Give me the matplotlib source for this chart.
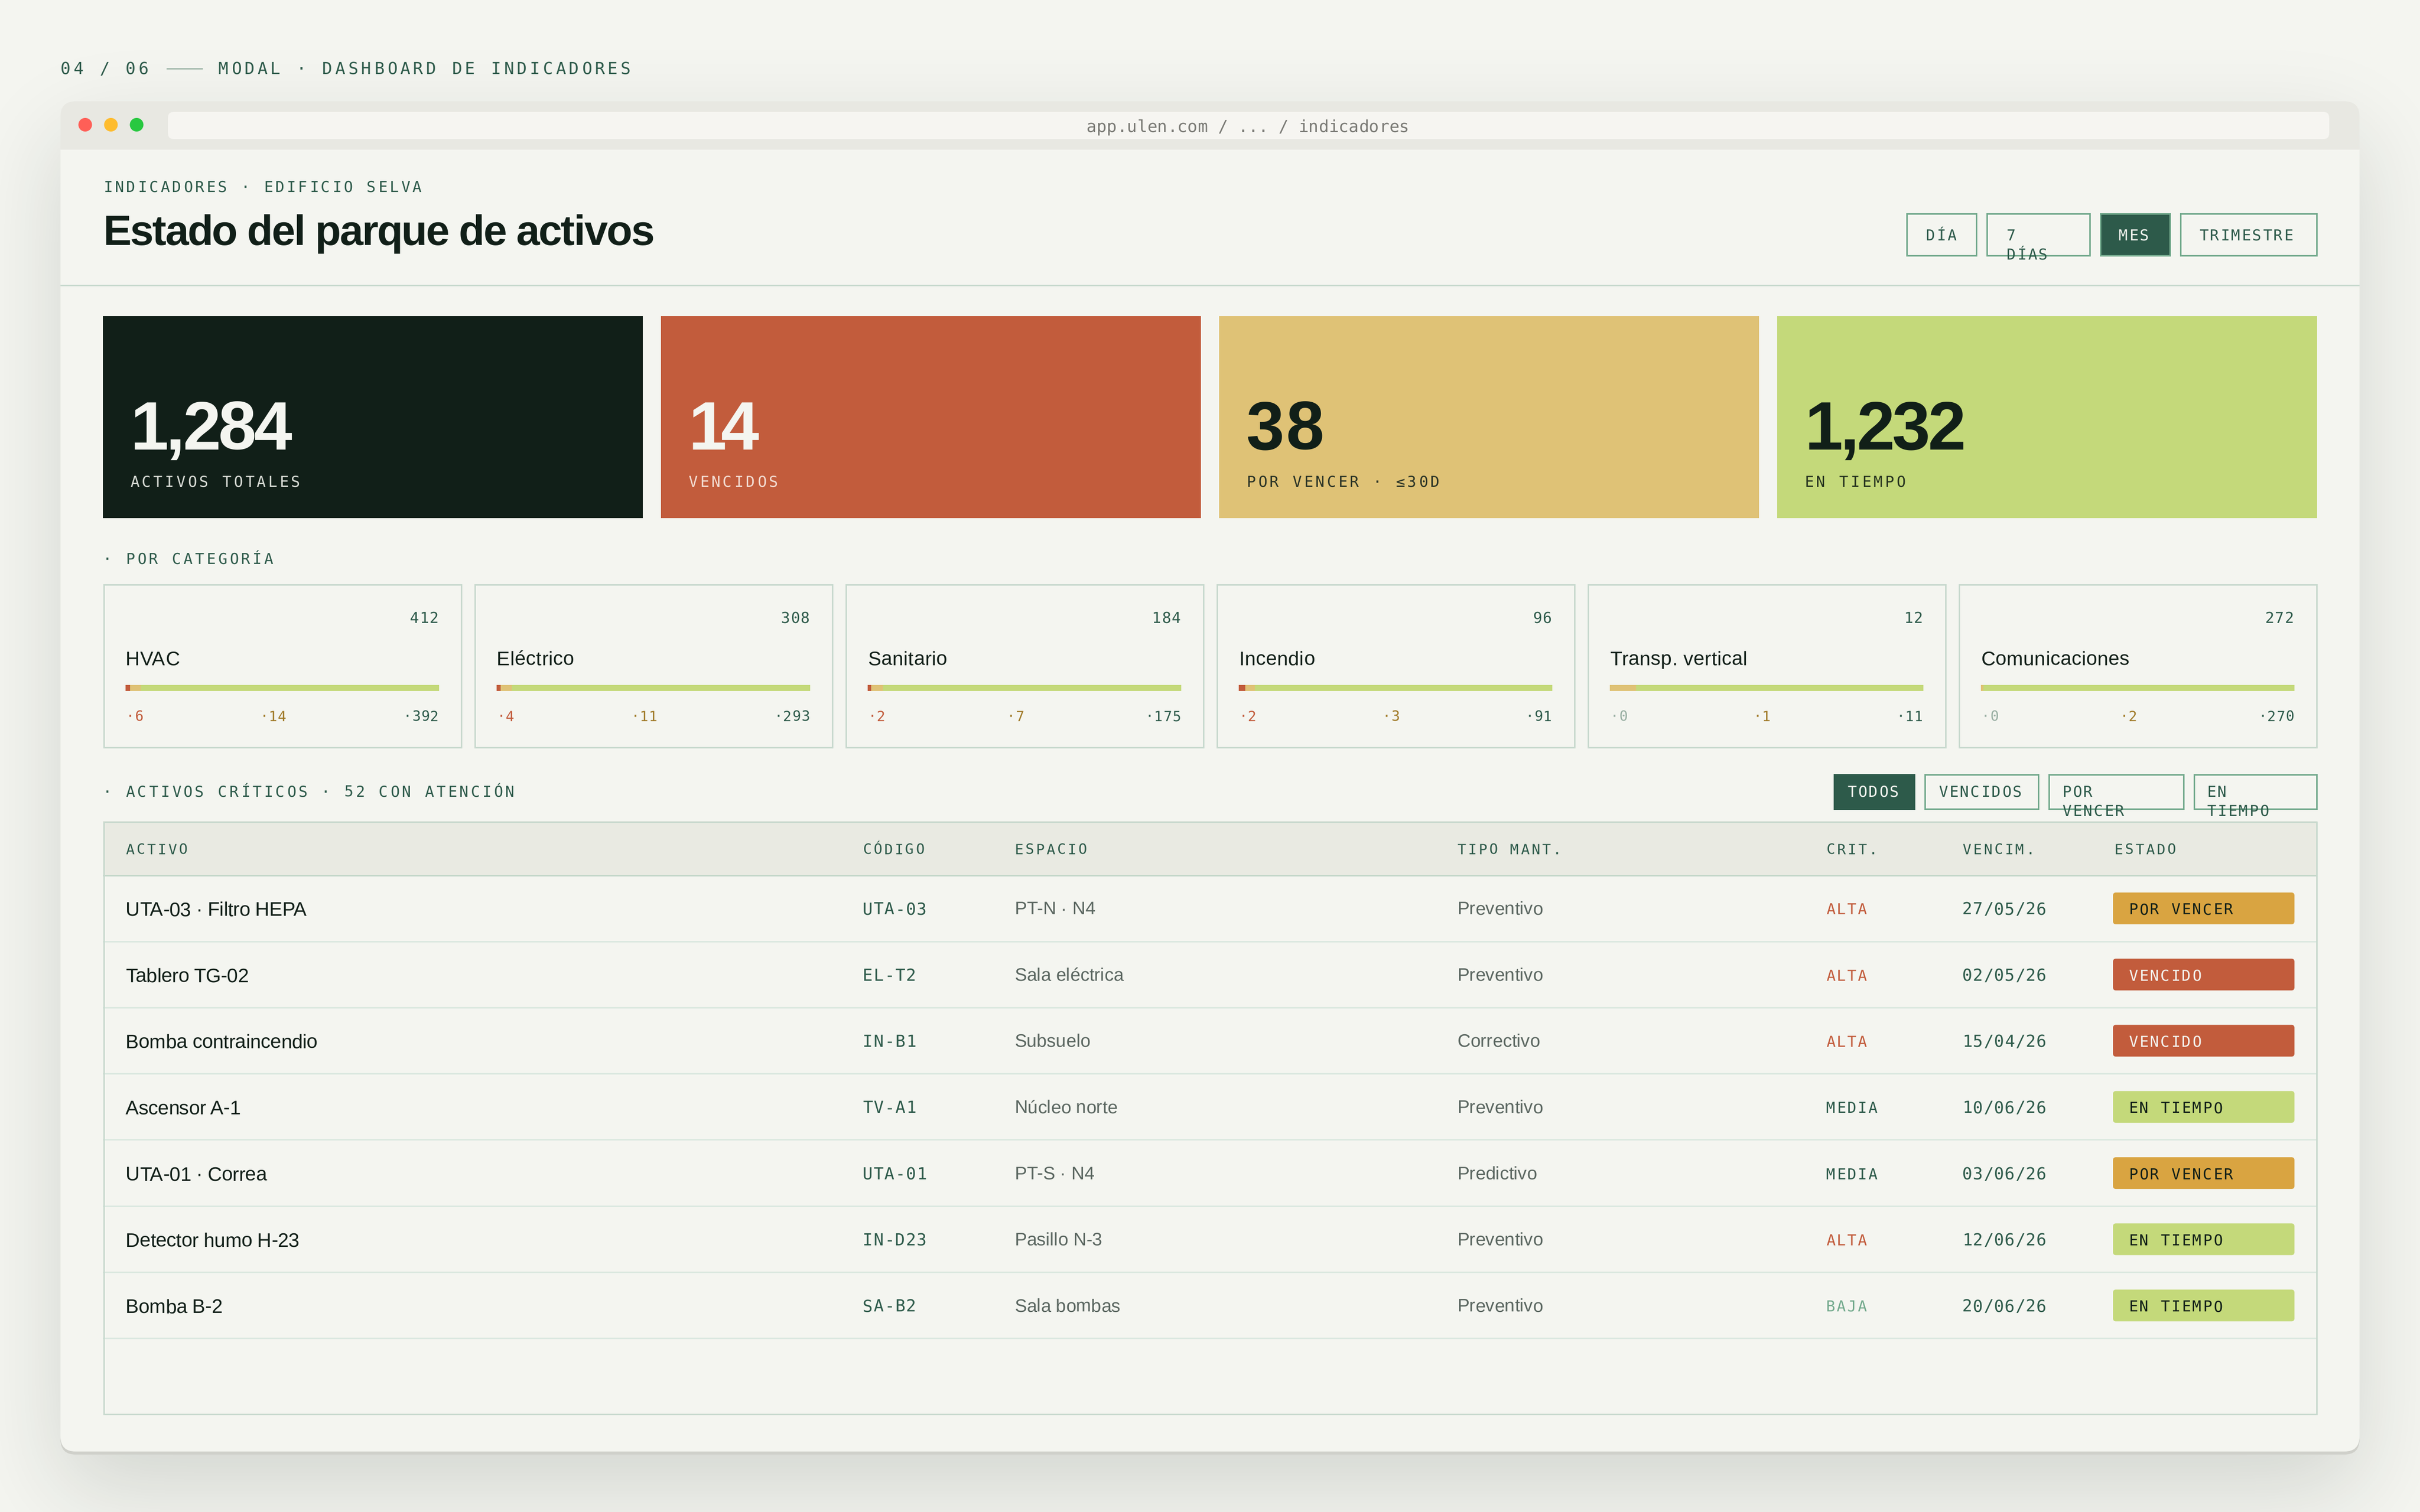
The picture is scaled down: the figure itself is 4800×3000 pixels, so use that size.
import math
import numpy as np
import matplotlib
matplotlib.use("Agg")
import matplotlib.pyplot as plt
from matplotlib import font_manager as fm, _text_helpers
from matplotlib.patches import FancyBboxPatch, Rectangle, Circle
from matplotlib.text import Text
from matplotlib.transforms import Bbox

plt.rcParams['text.hinting'] = 'none'

# ---------- data ----------
crumb_counter = "04 / 06"
crumb_title = "MODAL · DASHBOARD DE INDICADORES"
url_text = "app.ulen.com / ... / indicadores"
eyebrow = "INDICADORES · EDIFICIO SELVA"
page_title = "Estado del parque de activos"
range_labels = ["DÍA", "7\nDÍAS", "MES", "TRIMESTRE"]
kpi_values = ["1,284", "14", "38", "1,232"]
kpi_labels = ["ACTIVOS TOTALES", "VENCIDOS", "POR VENCER · ≤30D", "EN TIEMPO"]
section_cat = "· POR CATEGORÍA"
section_tab = "· ACTIVOS CRÍTICOS · 52 CON ATENCIÓN"
categories = ["HVAC", "Eléctrico", "Sanitario", "Incendio", "Transp. vertical", "Comunicaciones"]
cat_totals = [412, 308, 184, 96, 12, 272]
cat_overdue = [6, 4, 2, 2, 0, 0]
cat_due = [14, 11, 7, 3, 1, 2]
cat_ontime = [392, 293, 175, 91, 11, 270]
filter_labels = ["TODOS", "VENCIDOS", "POR\nVENCER", "EN\nTIEMPO"]
table_headers = ["ACTIVO", "CÓDIGO", "ESPACIO", "TIPO MANT.", "CRIT.", "VENCIM.", "ESTADO"]
row_names = ["UTA-03 · Filtro HEPA", "Tablero TG-02", "Bomba contraincendio", "Ascensor A-1",
             "UTA-01 · Correa", "Detector humo H-23", "Bomba B-2"]
row_codes = ["UTA-03", "EL-T2", "IN-B1", "TV-A1", "UTA-01", "IN-D23", "SA-B2"]
row_spaces = ["PT-N · N4", "Sala eléctrica", "Subsuelo", "Núcleo norte", "PT-S · N4", "Pasillo N-3", "Sala bombas"]
row_types = ["Preventivo", "Preventivo", "Correctivo", "Preventivo", "Predictivo", "Preventivo", "Preventivo"]
row_crit = ["ALTA", "ALTA", "ALTA", "MEDIA", "MEDIA", "ALTA", "BAJA"]
row_dates = ["27/05/26", "02/05/26", "15/04/26", "10/06/26", "03/06/26", "12/06/26", "20/06/26"]
row_status = ["POR VENCER", "VENCIDO", "VENCIDO", "EN TIEMPO", "POR VENCER", "EN TIEMPO", "EN TIEMPO"]

# ---------- style ----------
BG = "#f4f5f0"; INK = "#111f18"; GREEN = "#2d5a4a"; RED = "#c25c3c"; YEL = "#dfc276"; LIME = "#c4d97a"
AMBER = "#d9a441"; OCHRE = "#a07a28"; MUTED = "#5a6660"; BORDER = "#c8d9ce"; ROWLINE = "#dbe8e0"
BTN = "#72a98c"; ZERO = "#9ab0a4"
MONO = "DejaVu Sans Mono"; SANS = "Liberation Sans"
PX = 72 / 300  # points per output pixel


class Tracked(Text):
    """A single text artist drawn with CSS-like letter spacing."""

    def __init__(self, x, y, s, adv=None, track=0.0, fit=None, align="left", line=38, **kw):
        super().__init__(x, y, s, **kw)
        self._adv, self._track, self._fit, self._align, self._line = adv, track, fit, align, line

    def _place(self, dpi):
        fp = self.get_fontproperties()
        font = fm.get_font(fm.findfont(fp), hinting_factor=1)
        font.set_size(fp.get_size_in_points(), dpi)
        x0, y0 = self.get_transform().transform(self.get_position())
        out, widths = [], []
        for li, ln in enumerate(self.get_text().split("\n")):
            items = list(_text_helpers.layout(ln, font))
            n = len(ln)
            if self._adv is not None:
                xs = [i * self._adv for i in range(n)]
                w = n * self._adv
            else:
                tr = self._track
                last = items[-1]
                natural = last.x + last.ft_object.load_glyph(last.glyph_idx, flags=32).linearHoriAdvance / 65536
                if self._fit is not None and n > 1:
                    tr = (self._fit - natural) / (n - 1)
                xs = [it.x + i * tr for i, it in enumerate(items)]
                w = natural + (n - 1) * tr
            off = {"left": 0, "right": -w, "center": -w / 2}[self._align]
            for ch, xx in zip(ln, xs):
                out.append((ch, x0 + off + xx, y0 - li * self._line))
            widths.append((x0 + off, x0 + off + w, y0 - li * self._line))
        return out, widths, fp

    def draw(self, renderer):
        if not self.get_visible():
            return
        chars, _, fp = self._place(renderer.dpi)
        gc = renderer.new_gc()
        gc.set_foreground(self.get_color())
        gc.set_alpha(self.get_alpha())
        h = renderer.get_canvas_width_height()[1]
        for ch, x, y in chars:
            if ch != " ":
                renderer.draw_text(gc, x, h - y if renderer.flipy() else y, ch, fp, 0, False)
        gc.restore()

    def get_window_extent(self, renderer=None, dpi=None):
        d = dpi or self.get_figure(root=True).dpi
        _, widths, fp = self._place(d)
        size = fp.get_size_in_points() * d / 72
        return Bbox([[min(a for a, _, _ in widths), min(c for _, _, c in widths) - size * 0.22],
                     [max(b for _, b, _ in widths), max(c for _, _, c in widths) + size * 0.76]])


fig = plt.figure(figsize=(16, 10), dpi=300, facecolor=BG)
ax = fig.add_axes([0, 0, 1, 1])
ax.set_axis_off()


def T(x, y, s, px, color, font=MONO, weight="normal", **kw):
    t = Tracked(x, y, s, color=color, fontsize=px * PX, family=font, weight=weight,
                transform=ax.transData, zorder=10, **kw)
    ax.add_artist(t)
    return t


def rect(x0, y0, x1, y1, fc="none", ec="none", lw=3, z=3, **kw):
    if ec != "none":
        x0, y0, x1, y1 = x0 + lw / 2, y0 + lw / 2, x1 - lw / 2, y1 - lw / 2
    p = Rectangle((x0, y0), x1 - x0, y1 - y0, fc=fc, ec=ec, lw=lw * PX if ec != "none" else 0,
                  joinstyle="miter", zorder=z, **kw)
    ax.add_patch(p)
    return p


def rrect(x0, y0, x1, y1, r, fc, z=3):
    p = FancyBboxPatch((x0, y0), x1 - x0, y1 - y0, boxstyle=f"round,pad=0,rounding_size={r}",
                       fc=fc, ec="none", lw=0, zorder=z)
    ax.add_patch(p)
    return p


# ---------- shadow ----------
WX0, WX1, WY0, WY1 = 120, 4680, 201, 2880
SIG = 90
erf = np.vectorize(math.erf)
px_x = np.arange(4800) + .5
px_y = np.arange(3000) + .5
sx = .5 * (erf((px_x - WX0) / (SIG * 2**.5)) - erf((px_x - WX1) / (SIG * 2**.5)))
sy = .5 * (erf((px_y - WY0 - 72) / (SIG * 2**.5)) - erf((px_y - WY1 - 72) / (SIG * 2**.5)))
shadow = np.zeros((3000, 4800, 4))
shadow[..., :3] = np.array([17, 31, 24]) / 255
shadow[..., 3] = .15 * np.outer(sy, sx)
ax.imshow(shadow, extent=(0, 4800, 3000, 0), aspect="auto", interpolation="nearest", zorder=0)
ax.set_xlim(0, 4800)
ax.set_ylim(3000, 0)

rrect(WX0, WY0 + 6, WX1, WY1 + 6, 30, "#cfd0ca", z=1)
win = rrect(WX0, WY0, WX1, WY1, 30, BG, z=2)
bar = rect(WX0, WY0, WX1, 297, fc="#e8e8e2", z=2.5)
bar.set_clip_path(win)

# ---------- top crumb ----------
T(120, 147, crumb_counter, 33, GREEN, adv=25.74)
ax.plot([330, 402], [136, 136], color="#a8bdb0", lw=3 * PX, solid_capstyle="butt", zorder=5)
T(433, 147, crumb_title, 33, GREEN, adv=25.74)

# ---------- browser chrome ----------
for cx, c in zip([169, 220, 271], ["#ff5f57", "#febc2e", "#28c840"]):
    ax.add_patch(Circle((cx, 247.5), 13.5, fc=c, ec="none", zorder=4))
rrect(333, 222, 4620, 276, 12, "#f6f5f1", z=3)
T(2155, 262, url_text, 33, "#7a7a75", adv=20)

# ---------- page header ----------
T(205, 381, eyebrow, 30, GREEN, adv=22.7)
T(204, 486, page_title, 84, INK, font=SANS, weight="bold", fit=1094)
rect(WX0, 564.5, WX1, 567.5, fc=BORDER)

range_x = [(3780, 3921), (3939, 4146), (4164, 4305), (4323, 4596)]
range_text_x = [3820, 3980, 4202, 4362]
for lab, (a, b), tx in zip(range_labels, range_x, range_text_x):
    active = lab == "MES"
    rect(a, 422, b, 508, fc=GREEN if active else "none", ec=BTN)
    T(tx, 477, lab, 30, BG if active else GREEN, adv=21, line=38)

# ---------- KPI cards ----------
kpi_x = [204, 1311, 2418, 3525]
kpi_fill = [INK, RED, YEL, LIME]
kpi_num_col = [BG, BG, INK, INK]
kpi_lab_col = ["#d9dcd6", "#f3dcd2", "#2a3326", "#26331f"]
kpi_track = [-4.75, -11, 3, -5]
for x, fc, v, lab, nc, lc, tr in zip(kpi_x, kpi_fill, kpi_values, kpi_labels, kpi_num_col, kpi_lab_col, kpi_track):
    rect(x, 627, x + 1071, 1028, fc=fc)
    T(x + 54, 892, v, 136, nc, font=SANS, weight="bold", track=tr)
    T(x + 54, 966, lab, 30, lc, adv=22.8)

# ---------- categories ----------
T(204, 1119, section_cat, 30, GREEN, adv=22.8)
card_w, card_gap = 712, 24
for i, name in enumerate(categories):
    x = 204 + i * (card_w + card_gap)
    rect(x, 1158, x + card_w, 1484, ec=BORDER)
    left, right = x + 45, x + card_w - 45
    T(right, 1236, str(cat_totals[i]), 30, GREEN, adv=19.5, align="right")
    T(left, 1320, name, 39, INK, font=SANS, track=0.45)
    scale = (right - left) / cat_totals[i]
    segs = [(cat_overdue[i], RED), (cat_due[i], YEL), (cat_ontime[i], LIME)]
    start = left
    for val, col in segs:
        ax.barh(1365, val * scale, left=start, height=12, color=col, linewidth=0, zorder=4)
        start += val * scale
    stats = [("·%d" % cat_overdue[i], RED if cat_overdue[i] else ZERO),
             ("·%d" % cat_due[i], OCHRE),
             ("·%d" % cat_ontime[i], GREEN)]
    wid = [len(s) * 18 for s, _ in stats]
    gap = ((right - left) - sum(wid)) / 2
    sx0 = left
    for (s, col), w in zip(stats, wid):
        T(sx0, 1431, s, 28, col, adv=18)
        sx0 += w + gap

# ---------- table toolbar ----------
T(204, 1581, section_tab, 30, GREEN, adv=22.8)
filter_x = [(3636, 3798), (3816, 4044), (4062, 4332), (4350, 4596)]
filter_text_x = [3664, 3845, 4090, 4377]
for lab, (a, b), tx in zip(filter_labels, filter_x, filter_text_x):
    active = lab == "TODOS"
    rect(a, 1535, b, 1606, fc=GREEN if active else "none", ec=GREEN if active else BTN)
    T(tx, 1581, lab, 30, BG if active else GREEN, adv=21, line=38)

# ---------- table ----------
col_x = [249, 1711, 2012, 2890, 3622, 3892, 4193]
TX0, TX1, TY0, TY1 = 204, 4596, 1629, 2807
rect(TX0, TY0, TX1, 1739, fc="#e9eae2", z=2.6)
for hx, h in zip(col_x, table_headers):
    T(hx, 1695, h, 28.5, GREEN, adv=21)
rect(TX0, 1736, TX1, 1739, fc="#c3d6c9", z=3.2)
row_h = 131.3
crit_col = {"ALTA": RED, "MEDIA": GREEN, "BAJA": BTN}
badge_col = {"POR VENCER": (AMBER, INK), "VENCIDO": (RED, BG), "EN TIEMPO": (LIME, INK)}
for i in range(len(row_names)):
    line = 1868 + i * row_h
    cy = line - row_h / 2
    rect(TX0, line - 1.5, TX1, line + 1.5, fc=ROWLINE)
    T(col_x[0], cy + 15, row_names[i], 39, INK, font=SANS, track=-0.4)
    T(col_x[1], cy + 12, row_codes[i], 33, GREEN, adv=21.4)
    T(col_x[2], cy + 12, row_spaces[i], 36, MUTED, font=SANS)
    T(col_x[3], cy + 12, row_types[i], 36, MUTED, font=SANS)
    T(col_x[4], cy + 12, row_crit[i], 30, crit_col[row_crit[i]], adv=20.8)
    T(col_x[5], cy + 12, row_dates[i], 33, GREEN, adv=21)
    fc, tc = badge_col[row_status[i]]
    rrect(4191, cy - 31.5, 4551, cy + 31.5, 6, fc, z=4)
    T(4222, cy + 12, row_status[i], 30, tc, adv=21)
rect(TX0, TY0, TX1, TY1, ec=BORDER, z=3.4)

fig.savefig("out.png", dpi=300, facecolor=BG)
